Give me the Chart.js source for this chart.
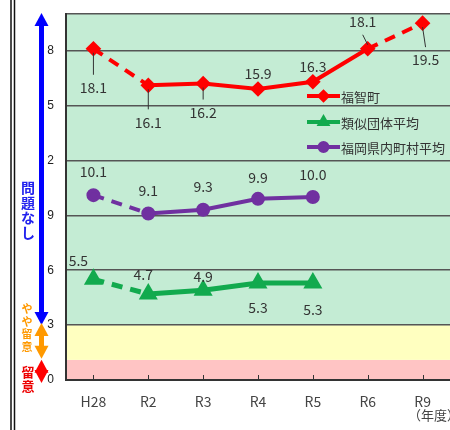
<!DOCTYPE html>
<html>
<head>
<meta charset="utf-8">
<script src="https://cdn.jsdelivr.net/npm/chart.js@4.4.1/dist/chart.umd.min.js"></script>
<style>
  html, body { margin: 0; padding: 0; background: #fff; }
  canvas { display: block; }
</style>
</head>
<body>
<canvas id="chart" width="450" height="430"></canvas>
<script>
// data
const years = ["H28", "R2", "R3", "R4", "R5", "R6", "R9"];
const fukuchi = [18.1, 16.1, 16.2, 15.9, 16.3, 18.1, 19.5];
const ruiji = [5.5, 4.7, 4.9, 5.3, 5.3];
const kennai = [10.1, 9.1, 9.3, 9.9, 10.0];
const seriesNames = ["福智町", "類似団体平均", "福岡県内町村平均"];

// y ticks as printed (the tens digit is missing in the original)
const yTickValues = [0, 3, 6, 9, 12, 15, 18];
const yTickLabels = ["0", "3", "6", "9", "2", "5", "8"];
const yMax = 20;

// background zones: 留意 / やや留意 / 問題なし
const zoneLimits = [0, 1.1, 3, 20];
const zoneColors = ["#ffc4c4", "#ffffc0", "#c4ecd4"];

// which segments are dashed (index of first point)
const dashedFukuchi = [0, 5];
const dashedOthers = [0];

// label placement [dx, dy] relative to each point
const labelPos = [
  [[0, 39], [0, 37], [0, 29], [0, -15], [0, -15], [-5, -27], [3, 37]],
  [[-15, -19], [-5, -19], [0, -14], [0, 25], [0, 27]],
  [[0, -23], [0, -23], [0, -23], [0, -21], [0, -22]],
];

const RED = "#ff0000";
const GREEN = "#12aa4e";
const PURPLE = "#7030a0";
const jpFont = '"Noto Sans CJK JP", "Liberation Sans", sans-serif';

const zonesPlugin = {
  id: "zones",
  beforeDraw(chart) {
    const { ctx, chartArea: a, scales: { y } } = chart;
    ctx.save();
    for (let i = 0; i < zoneColors.length; i++) {
      const top = y.getPixelForValue(zoneLimits[i + 1]);
      const bot = y.getPixelForValue(zoneLimits[i]);
      ctx.fillStyle = zoneColors[i];
      ctx.fillRect(a.left, top, a.right - a.left, bot - top);
    }
    ctx.restore();
  },
};

function arrowHead(ctx, x, tipY, dir, color) {
  // dir = -1 points up, 1 points down
  ctx.fillStyle = color;
  ctx.beginPath();
  ctx.moveTo(x, tipY);
  ctx.lineTo(x - 7, tipY - dir * 13);
  ctx.lineTo(x + 7, tipY - dir * 13);
  ctx.closePath();
  ctx.fill();
}

function vArrow(ctx, x, y1, y2, color, headTop, headBot) {
  ctx.strokeStyle = color;
  ctx.lineWidth = 5;
  ctx.beginPath();
  ctx.moveTo(x, y1 + (headTop ? 10 : 0));
  ctx.lineTo(x, y2 - (headBot ? 10 : 0));
  ctx.stroke();
  if (headTop) arrowHead(ctx, x, y1, -1, color);
  if (headBot) arrowHead(ctx, x, y2, 1, color);
}

function vText(ctx, text, x, yCenter, step, font, color) {
  ctx.font = font;
  ctx.fillStyle = color;
  ctx.textAlign = "center";
  ctx.textBaseline = "middle";
  const chars = [...text];
  const start = yCenter - (step * (chars.length - 1)) / 2;
  chars.forEach((c, i) => ctx.fillText(c, x, start + i * step));
}

const sidePlugin = {
  id: "side",
  afterDraw(chart) {
    const { ctx, chartArea: a, scales: { x, y } } = chart;
    ctx.save();
    // double frame line on the left
    ctx.strokeStyle = "#111";
    ctx.lineWidth = 1.5;
    [11, 14.5].forEach((lx) => {
      ctx.beginPath();
      ctx.moveTo(lx, 0);
      ctx.lineTo(lx, 430);
      ctx.stroke();
    });
    const ax = 41.5;
    const y20 = y.getPixelForValue(zoneLimits[3]) - 1;
    const y3 = y.getPixelForValue(zoneLimits[2]);
    const y1 = y.getPixelForValue(zoneLimits[1]) - 1;
    const y0 = y.getPixelForValue(zoneLimits[0]) + 3;
    vArrow(ctx, ax, y20, y3, "#0000ff", true, true);
    vArrow(ctx, ax, y3 - 2, y1, "#ff9900", true, true);
    vArrow(ctx, ax, y1 + 1, y0, "#ff0000", true, true);

    vText(ctx, "問題なし", 28, 210, 15, "bold 14px " + jpFont, "#2222ee");
    vText(ctx, "やや留意", 27, 328, 12.5, "bold 11px " + jpFont, "#ff9900");
    vText(ctx, "留意", 28, 379, 14, "bold 13px " + jpFont, "#ee0000");

    // small inner tick marks on the x axis
    ctx.strokeStyle = "#333";
    ctx.lineWidth = 1;
    years.forEach((_, i) => {
      const px = Math.round(x.getPixelForValue(i)) + 0.5;
      ctx.beginPath();
      ctx.moveTo(px, a.bottom);
      ctx.lineTo(px, a.bottom - 5);
      ctx.stroke();
    });

    // unit label
    ctx.font = "13px " + jpFont;
    ctx.fillStyle = "#444";
    ctx.textAlign = "left";
    ctx.textBaseline = "middle";
    ctx.fillText("（年度）", 408, 415);
    ctx.restore();
  },
};

const labelsPlugin = {
  id: "valueLabels",
  afterDatasetsDraw(chart) {
    const { ctx } = chart;
    ctx.save();
    ctx.font = "14px " + jpFont;
    ctx.fillStyle = "#333";
    ctx.textAlign = "center";
    ctx.textBaseline = "middle";
    chart.data.datasets.forEach((ds, di) => {
      const meta = chart.getDatasetMeta(di);
      meta.data.forEach((pt, i) => {
        const [dx, dy] = labelPos[di][i];
        const lx = pt.x + dx;
        const ly = pt.y + dy;
        if (di === 0 && Math.abs(dy) > 25) {
          // thin leader line (only the red series has them)
          const s = Math.sign(dy);
          ctx.strokeStyle = "#333";
          ctx.lineWidth = 1;
          ctx.beginPath();
          ctx.moveTo(pt.x, pt.y + s * 4);
          ctx.lineTo(lx, ly - s * 13);
          ctx.stroke();
        }
        ctx.fillText(ds.data[i].toFixed(1), lx, ly);
      });
    });
    ctx.restore();
  },
};

const legendPlugin = {
  id: "innerLegend",
  afterDatasetsDraw(chart) {
    const { ctx } = chart;
    const rows = [96, 122, 147];
    ctx.save();
    chart.data.datasets.forEach((ds, i) => {
      const y = rows[i];
      ctx.strokeStyle = ds.borderColor;
      ctx.lineWidth = 4;
      ctx.beginPath();
      ctx.moveTo(307, y);
      ctx.lineTo(340, y);
      ctx.stroke();
      Chart.helpers.drawPoint(ctx, { pointStyle: ds.pointStyle, radius: 4, borderWidth: 1 }, 323.5, y);
      ctx.fillStyle = ds.borderColor;
      ctx.fill();
      ctx.font = "13px " + jpFont;
      ctx.fillStyle = "#333";
      ctx.textAlign = "left";
      ctx.textBaseline = "middle";
      ctx.fillText(ds.label, 341, y + 1);
    });
    ctx.restore();
  },
};

const dashed = (list) => (c) => (list.includes(c.p0DataIndex) ? [11, 8] : undefined);

new Chart(document.getElementById("chart"), {
  type: "line",
  data: {
    labels: years,
    datasets: [
      {
        label: seriesNames[0],
        data: fukuchi,
        borderColor: RED,
        backgroundColor: RED,
        borderWidth: 4,
        pointStyle: "rectRot",
        pointRadius: 5,
        segment: { borderDash: dashed(dashedFukuchi) },
      },
      {
        label: seriesNames[1],
        data: ruiji,
        borderColor: GREEN,
        backgroundColor: GREEN,
        borderWidth: 5,
        pointStyle: "triangle",
        pointRadius: 6,
        segment: { borderDash: dashed(dashedOthers) },
      },
      {
        label: seriesNames[2],
        data: kennai,
        borderColor: PURPLE,
        backgroundColor: PURPLE,
        borderWidth: 4,
        pointStyle: "circle",
        pointRadius: 5,
        segment: { borderDash: dashed(dashedOthers) },
      },
    ],
  },
  options: {
    responsive: false,
    animation: false,
    devicePixelRatio: 1,
    clip: false,
    layout: { autoPadding: false, padding: { top: 14, right: 0, left: 0, bottom: 0 } },
    plugins: {
      legend: { display: false },
      tooltip: { enabled: false },
    },
    scales: {
      x: {
        offset: true,
        grid: { display: false },
        border: { color: "#333", width: 2 },
        ticks: { color: "#444", font: { size: 14, family: jpFont }, padding: 5, maxRotation: 0 },
        afterFit: (s) => {
          s.height = 50;
          s.paddingLeft = 0;
          s.paddingRight = 0;
        },
      },
      y: {
        min: 0,
        max: yMax,
        afterBuildTicks: (s) => {
          s.ticks = [...yTickValues, yMax].map((v) => ({ value: v }));
        },
        ticks: {
          color: "#222",
          font: { size: 12, family: '"Liberation Sans", sans-serif' },
          padding: 12,
          callback: (v, i) => yTickLabels[i] ?? "",
        },
        grid: { color: "#555", lineWidth: 1.5, drawTicks: false },
        border: { color: "#333", width: 2 },
        afterFit: (s) => {
          s.width = 66;
          s.paddingTop = 0;
          s.paddingBottom = 0;
        },
      },
    },
  },
  plugins: [zonesPlugin, labelsPlugin, legendPlugin, sidePlugin],
});
</script>
</body>
</html>
